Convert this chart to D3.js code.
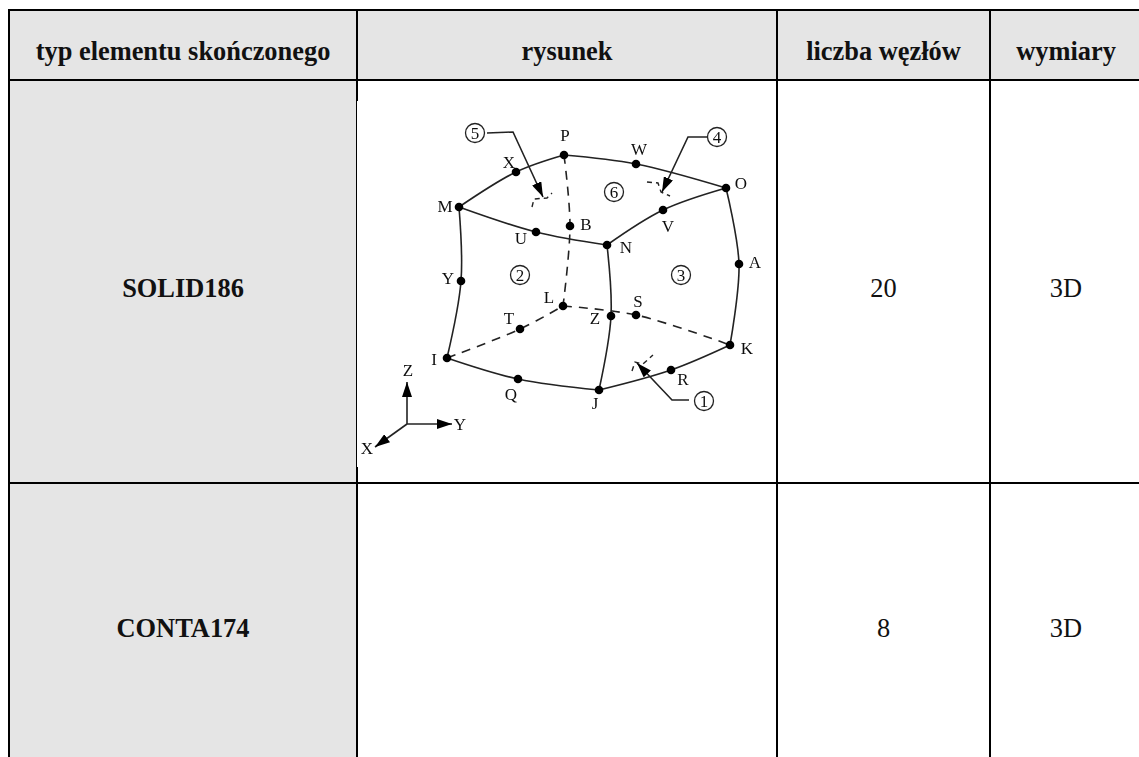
<!DOCTYPE html>
<html>
<head>
<meta charset="utf-8">
<style>
body { margin: 0; background: #fff; }
svg { display: block; }
text { font-family: "Liberation Serif", serif; fill: #111; }
</style>
<script src="https://cdn.jsdelivr.net/npm/d3@7"></script>
</head>
<body>
<svg id="chart" width="1139" height="757"></svg>
<script>
// table content
var headers = ["typ elementu skończonego", "rysunek", "liczba węzłów", "wymiary"];
var elementTypes = ["SOLID186", "CONTA174"];
var nodeCounts = ["20", "8"];
var dimensions = ["3D", "3D"];

// element figure in figure units
var nodeNames = ["P", "X", "M", "U", "Y", "B", "W", "O", "V", "N", "A", "I", "T", "L", "Q", "Z", "S", "K", "R", "J"];
var nodeX = [207, 159, 102, 179, 104, 213, 279, 369, 306, 250, 382, 90, 163, 206, 161, 254, 279, 373, 314, 242];
var nodeY = [54, 71, 106, 131, 180, 125, 63, 87, 109, 144, 163, 257, 228, 205, 278, 215, 214, 244, 269, 289];
var labelX = [208, 152, 88, 164, 91, 229, 282, 384, 311, 269, 398, 77, 152, 192, 154, 238, 281, 390, 326, 238];
var labelY = [34, 61, 105, 137, 177, 123, 48, 82, 125, 146, 161, 258, 217, 196, 293, 217, 200, 247, 278, 302];

var solidEdges = ["MXP", "PWO", "MUN", "NVO", "MYI", "OAK", "NZJ", "IQJ", "JRK"];
var dashedEdges = ["PBL", "ITL", "LSK"];

var faceNames = ["5", "4", "1", "2", "3", "6"];
var faceX = [118, 360, 347, 163, 324, 257];
var faceY = [32, 36, 300, 174, 174, 91];

var leaders = [
  [[130, 32], [156, 31], [186, 96]],
  [[350, 36], [331, 36], [305, 91]],
  [[332, 299], [315, 299], [280, 262]]
];
var faceHints = [
  [[175, 106], [177, 98], [190, 97], [195, 92]],
  [[290, 81], [301, 82], [304, 91], [313, 95]],
  [[275, 270], [278, 261], [286, 263], [296, 254]]
];

var axisNames = ["Z", "Y", "X"];
var axisTipX = [50, 95, 18];
var axisTipY = [281, 323, 346];
var axisLabelX = [51, 103, 10];
var axisLabelY = [269, 323, 347];
var axisOrigin = [50, 323];

var svg = d3.select("#chart");

// table grid
var colEdges = [9, 357, 777, 990, 1142];
var rowEdges = [10, 80, 483, 773];
var rowTextY = [288, 628];

function colCenter(i) { return (colEdges[i] + colEdges[i + 1]) / 2; }

svg.append("rect")
  .attr("x", colEdges[0]).attr("y", rowEdges[0])
  .attr("width", colEdges[4] - colEdges[0]).attr("height", rowEdges[1] - rowEdges[0])
  .attr("fill", "#e5e5e5");
svg.append("rect")
  .attr("x", colEdges[0]).attr("y", rowEdges[1])
  .attr("width", colEdges[1] - colEdges[0]).attr("height", rowEdges[3] - rowEdges[1])
  .attr("fill", "#e5e5e5");

svg.selectAll("line.col").data(colEdges).enter().append("line")
  .attr("class", "col")
  .attr("x1", function(d) { return d; }).attr("x2", function(d) { return d; })
  .attr("y1", rowEdges[0] - 1).attr("y2", rowEdges[3])
  .attr("stroke", "#000").attr("stroke-width", 2);
svg.selectAll("line.row").data(rowEdges).enter().append("line")
  .attr("class", "row")
  .attr("x1", colEdges[0]).attr("x2", colEdges[4])
  .attr("y1", function(d) { return d; }).attr("y2", function(d) { return d; })
  .attr("stroke", "#000").attr("stroke-width", 2);

svg.selectAll("text.head").data(headers).enter().append("text")
  .attr("class", "head")
  .attr("x", function(d, i) { return colCenter(i); })
  .attr("y", 51)
  .attr("text-anchor", "middle").attr("dominant-baseline", "central")
  .attr("font-size", 26.4).attr("font-weight", "bold")
  .text(function(d) { return d; });

function cellColumn(values, col, bold) {
  svg.selectAll("text.c" + col).data(values).enter().append("text")
    .attr("class", "c" + col)
    .attr("x", colCenter(col))
    .attr("y", function(d, i) { return rowTextY[i]; })
    .attr("text-anchor", "middle").attr("dominant-baseline", "central")
    .attr("font-size", 26.4).attr("font-weight", bold ? "bold" : "normal")
    .text(function(d) { return d; });
}
cellColumn(elementTypes, 0, true);
cellColumn(nodeCounts, 2, false);
cellColumn(dimensions, 3, false);

// figure sits on a white patch that clips half of the column rule
var x = d3.scaleLinear().domain([0, 419]).range([357, 776]);
var y = d3.scaleLinear().domain([0, 366]).range([101, 467]);

svg.append("rect")
  .attr("x", x(0)).attr("y", y(0))
  .attr("width", x(419) - x(0)).attr("height", y(366) - y(0))
  .attr("fill", "#fff");

var defs = svg.append("defs");
defs.append("filter").attr("id", "soft")
  .append("feGaussianBlur").attr("stdDeviation", 0.4);
defs.append("marker")
  .attr("id", "head")
  .attr("markerUnits", "userSpaceOnUse")
  .attr("viewBox", "0 0 15 10")
  .attr("markerWidth", 15).attr("markerHeight", 10)
  .attr("refX", 15).attr("refY", 5)
  .attr("orient", "auto")
  .append("path").attr("d", "M0,0L15,5L0,10Z").attr("fill", "#000");

var fig = svg.append("g").attr("filter", "url(#soft)");

var nodeIndex = d3.index(nodeNames.map(function(n, i) { return { n: n, x: nodeX[i], y: nodeY[i] }; }), function(d) { return d.n; });

var edgeLine = d3.line()
  .x(function(d) { return x(d.x); })
  .y(function(d) { return y(d.y); })
  .curve(d3.curveCatmullRom.alpha(0.5));

function edgePoints(e) { return e.split("").map(function(n) { return nodeIndex.get(n); }); }

fig.selectAll("path.solid").data(solidEdges).enter().append("path")
  .attr("class", "solid")
  .attr("d", function(e) { return edgeLine(edgePoints(e)); })
  .attr("fill", "none").attr("stroke", "#222").attr("stroke-width", 1.6);

fig.selectAll("path.dashed").data(dashedEdges).enter().append("path")
  .attr("class", "dashed")
  .attr("d", function(e) { return edgeLine(edgePoints(e)); })
  .attr("fill", "none").attr("stroke", "#222").attr("stroke-width", 1.6)
  .attr("stroke-dasharray", "9 7");

var straight = d3.line()
  .x(function(d) { return x(d[0]); })
  .y(function(d) { return y(d[1]); });

fig.selectAll("path.hint").data(faceHints).enter().append("path")
  .attr("class", "hint")
  .attr("d", straight)
  .attr("fill", "none").attr("stroke", "#222").attr("stroke-width", 1.4)
  .attr("stroke-dasharray", "5 4");

fig.selectAll("path.leader").data(leaders).enter().append("path")
  .attr("class", "leader")
  .attr("d", straight)
  .attr("fill", "none").attr("stroke", "#222").attr("stroke-width", 1.6)
  .attr("marker-end", "url(#head)");

fig.selectAll("circle.node").data(nodeNames).enter().append("circle")
  .attr("class", "node")
  .attr("cx", function(d, i) { return x(nodeX[i]); })
  .attr("cy", function(d, i) { return y(nodeY[i]); })
  .attr("r", 4.3).attr("fill", "#000");

fig.selectAll("text.node").data(nodeNames).enter().append("text")
  .attr("class", "node")
  .attr("x", function(d, i) { return x(labelX[i]); })
  .attr("y", function(d, i) { return y(labelY[i]); })
  .attr("text-anchor", "middle").attr("dominant-baseline", "central")
  .attr("font-size", 17)
  .text(function(d) { return d; });

fig.selectAll("circle.face").data(faceNames).enter().append("circle")
  .attr("class", "face")
  .attr("cx", function(d, i) { return x(faceX[i]); })
  .attr("cy", function(d, i) { return y(faceY[i]); })
  .attr("r", 9.5).attr("fill", "#fff").attr("stroke", "#222").attr("stroke-width", 1.3);

fig.selectAll("text.face").data(faceNames).enter().append("text")
  .attr("class", "face")
  .attr("x", function(d, i) { return x(faceX[i]); })
  .attr("y", function(d, i) { return y(faceY[i]); })
  .attr("text-anchor", "middle").attr("dominant-baseline", "central")
  .attr("font-size", 17)
  .text(function(d) { return d; });

// coordinate triad
fig.selectAll("line.axis").data(axisNames).enter().append("line")
  .attr("class", "axis")
  .attr("x1", x(axisOrigin[0])).attr("y1", y(axisOrigin[1]))
  .attr("x2", function(d, i) { return x(axisTipX[i]); })
  .attr("y2", function(d, i) { return y(axisTipY[i]); })
  .attr("stroke", "#222").attr("stroke-width", 1.6)
  .attr("marker-end", "url(#head)");

fig.selectAll("text.axis").data(axisNames).enter().append("text")
  .attr("class", "axis")
  .attr("x", function(d, i) { return x(axisLabelX[i]); })
  .attr("y", function(d, i) { return y(axisLabelY[i]); })
  .attr("text-anchor", "middle").attr("dominant-baseline", "central")
  .attr("font-size", 17)
  .text(function(d) { return d; });
</script>
</body>
</html>
